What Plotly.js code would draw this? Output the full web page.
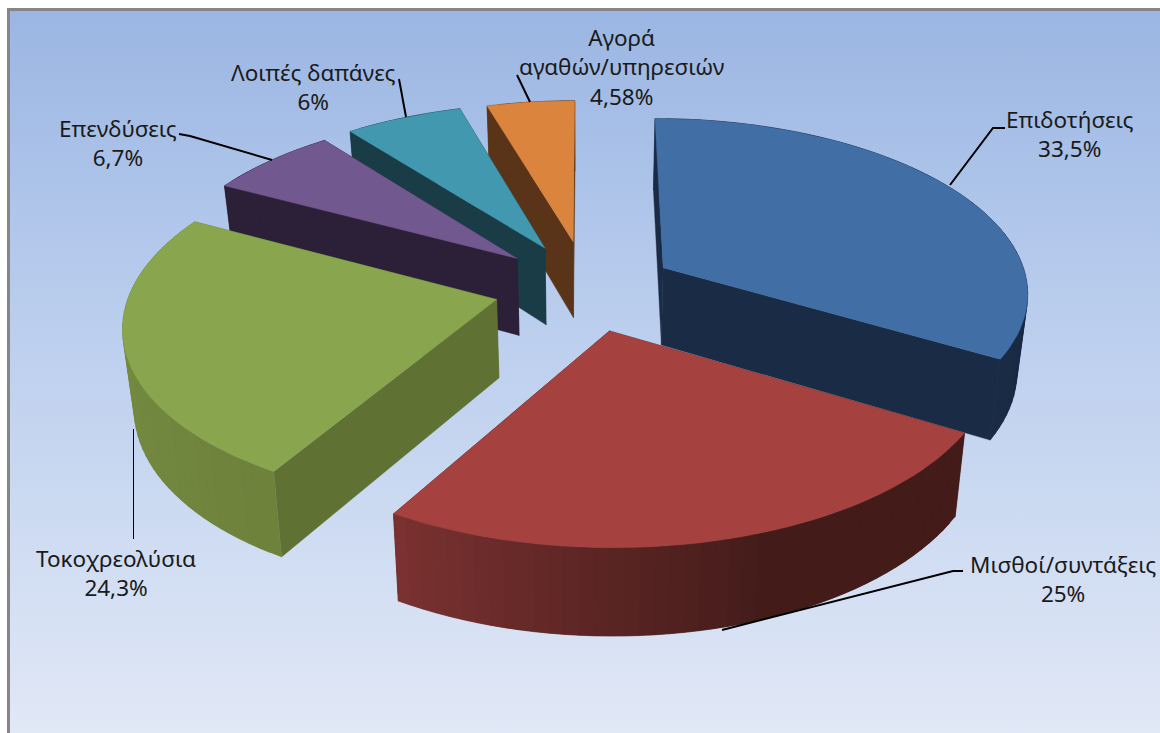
<!DOCTYPE html>
<html>
<head>
<meta charset="utf-8">
<script src="https://cdn.plot.ly/plotly-3.0.1.min.js"></script>
<style>
html,body{margin:0;padding:0;background:#fff;overflow:hidden}
#frame{position:absolute;left:7px;top:8px;width:1153px;height:725px;box-sizing:border-box;border-left:3px solid #868686;border-top:3px solid #868686;background:linear-gradient(to bottom,#9bb6e3 0%,#bccfee 45%,#e1e8f6 100%)}
#chart{position:absolute;left:0;top:0;width:1160px;height:733px}
</style>
</head>
<body>
<div id="frame"></div>
<div id="chart"></div>
<script>
// Data
var categories = ["Επιδοτήσεις","Μισθοί/συντάξεις","Τοκοχρεολύσια","Επενδύσεις","Λοιπές δαπάνες","Αγορά<br>αγαθών/υπηρεσιών"];
var values = [33.5,25,24.3,6.7,6,4.58];
var valueLabels = ["33,5%","25%","24,3%","6,7%","6%","4,58%"];

// Styles
var topColors  = ["#416ea5","#a5413f","#89a54e","#71588f","#4198af","#db843d"];
var sideColors = ["#1a2c45","#431c1a","#5f7234","#2b2037","#1a3c47","#5a3418"];
var rimStart   = ["#1a2c45","#431c1a","#6e823c","#2b2037","#1a3c47","#5a3418"];
var rimEnd     = ["#1a2c45","#7e3332","#7a9244","#2b2037","#1a3c47","#5a3418"];
var rimBreak   = [0,0.4,0,0,0,0];
var paintOrder = [5,4,3,2,0,1];
var slicePull   = [0.223,0.248,0.255,0.256,0.253,0.268];
var sliceRadius = [0.98,0.99,0.98,0.975,0.98,0.96];
var sliceShiftX = [3,-3.5,0,0,-2,-2];
var labelX = [1070,1063,116,118,313,621];
var labelY = [134,579,573,143,87,67];
var leaders = [
  [[950,993,1005],[185,128,128]],
  [[722,867,953,963],[630,593,571,571]],
  [[133.5,133.5],[429,539]],
  [[272,190,179],[160,136,134]],
  [[406,399],[117,79]],
  [[530,517],[102,75]]
];

// View of the tilted pie
var view = {cx:589, cy:287, fx:373, fy:177, tilt:0.134, drop:78, shrinkX:0.975, stretchY:1.04};

function project(u,v,low,shift){
  var s = 1/(1+view.tilt*v);
  var x = view.cx + view.fx*u*s, y = view.cy - view.fy*v*s;
  if(low){ x = view.cx+(x-view.cx)*view.shrinkX; y = view.cy+(y-view.cy)*view.stretchY+view.drop; }
  return [x+shift,y];
}
function hex(c){return [parseInt(c.substr(1,2),16),parseInt(c.substr(3,2),16),parseInt(c.substr(5,2),16)];}
function mix(a,b,t){var A=hex(a),B=hex(b);return "rgb("+[0,1,2].map(function(i){return Math.round(A[i]+(B[i]-A[i])*t);}).join(",")+")";}
function poly(pts,color,name){
  return {type:"scatter",mode:"lines",x:pts.map(function(p){return p[0];}).concat([pts[0][0]]),y:pts.map(function(p){return p[1];}).concat([pts[0][1]]),
    fill:"toself",fillcolor:color,line:{color:color,width:0.4},hoverinfo:name?"text":"skip",text:name||"",showlegend:false};
}

var total = values.reduce(function(a,b){return a+b;},0);
var starts = [], acc = 0;
values.forEach(function(v){starts.push(acc);acc+=v/total*2*Math.PI;});

var traces = [];
paintOrder.forEach(function(i){
  var a0 = starts[i], a1 = a0+values[i]/total*2*Math.PI, mid=(a0+a1)/2, r=sliceRadius[i], sh=sliceShiftX[i];
  var ou = slicePull[i]*Math.sin(mid), ov = slicePull[i]*Math.cos(mid);
  var steps = Math.max(8,Math.round((a1-a0)/0.035));
  var arc = [];
  for(var k=0;k<=steps;k++){var a=a0+(a1-a0)*k/steps;arc.push([ou+r*Math.sin(a),ov+r*Math.cos(a)]);}
  var apexTop = project(ou,ov,false,sh), apexLow = project(ou,ov,true,sh);
  var first = arc[0], last = arc[steps];
  // radial side walls
  traces.push(poly([apexTop,project(last[0],last[1],false,sh),project(last[0],last[1],true,sh),apexLow],sideColors[i]));
  traces.push(poly([apexTop,project(first[0],first[1],false,sh),project(first[0],first[1],true,sh),apexLow],sideColors[i]));
  // outer rim: painted from the far end, each band overlapping the next so no seams show
  for(k=steps-1;k>=0;k--){
    var t=k/steps, b=rimBreak[i], tt=t<b?0:(t-b)/(1-b);
    var n=Math.min(steps,k+2);
    var band=[];
    for(var j=k;j<=n;j++) band.push(project(arc[j][0],arc[j][1],false,sh));
    for(j=n;j>=k;j--) band.push(project(arc[j][0],arc[j][1],true,sh));
    traces.push(poly(band,mix(rimStart[i],rimEnd[i],tt)));
  }
  // top face
  var topPts=[apexTop].concat(arc.map(function(p){return project(p[0],p[1],false,sh);}));
  traces.push(poly(topPts,topColors[i],categories[i].replace("<br>"," ")+": "+valueLabels[i]));
});
leaders.forEach(function(l,i){
  traces.push({type:"scatter",mode:"lines",x:l[0],y:l[1],line:{color:"#000",width:i==2?1:2},hoverinfo:"skip",showlegend:false});
});

var annotations = categories.map(function(c,i){
  return {x:labelX[i],y:labelY[i],xref:"x",yref:"y",text:c+"<br>"+valueLabels[i],showarrow:false,xanchor:"center",yanchor:"middle",align:"center",
    font:{family:"Noto Sans, Open Sans, sans-serif",size:22.5,color:"#1a1a1a"}};
});

Plotly.newPlot("chart",traces,{
  width:1160,height:733,margin:{l:0,r:0,t:0,b:0},
  paper_bgcolor:"rgba(0,0,0,0)",plot_bgcolor:"rgba(0,0,0,0)",showlegend:false,
  xaxis:{range:[0,1160],visible:false,fixedrange:true},
  yaxis:{range:[733,0],visible:false,fixedrange:true},
  annotations:annotations,hovermode:"closest"
},{displayModeBar:false,responsive:false});
</script>
</body>
</html>
